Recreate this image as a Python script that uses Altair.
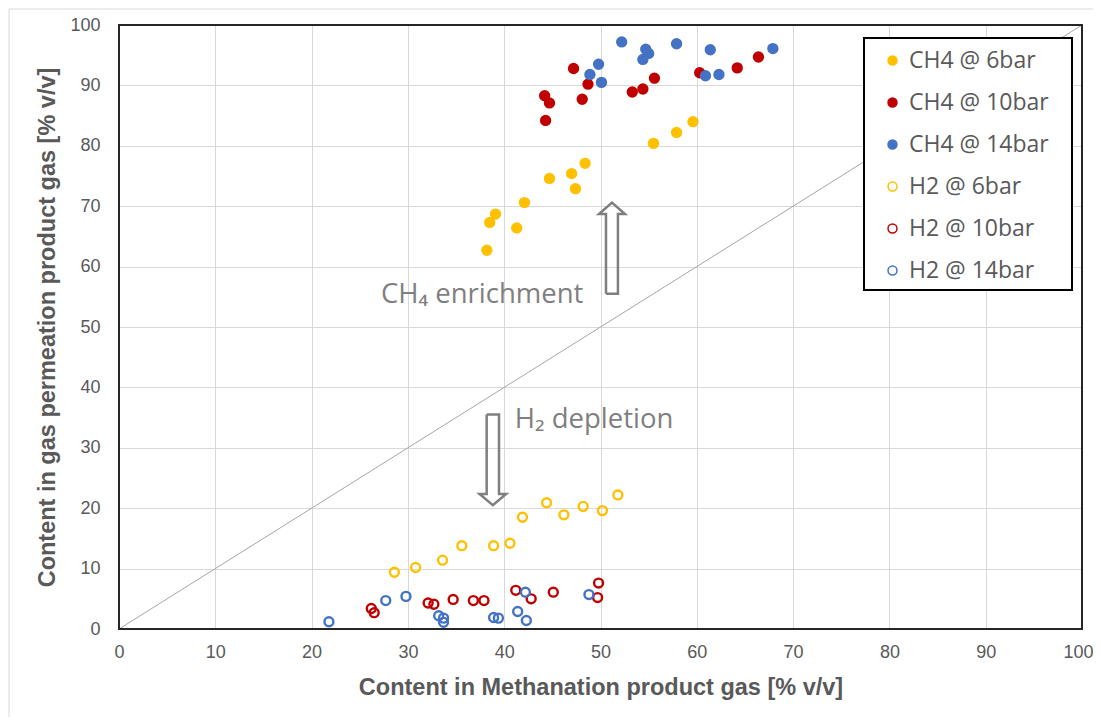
import altair as alt
import pandas as pd

# ---------------- data ----------------
series_names = ["CH4 @ 6bar", "CH4 @ 10bar", "CH4 @ 14bar",
                "H2 @ 6bar", "H2 @ 10bar", "H2 @ 14bar"]
stroke_colors = ["#FFC000", "#C00000", "#4472C4", "#FFC000", "#C00000", "#4472C4"]
fill_colors = ["#FFC000", "#C00000", "#4472C4", "transparent", "transparent", "transparent"]
marker_sizes = [80, 80, 80, 46, 46, 46]

ch4_6_x = [38.2, 38.5, 39.1, 41.3, 42.1, 44.7, 47.0, 47.4, 48.4, 55.5, 57.9, 59.6]
ch4_6_y = [62.7, 67.3, 68.7, 66.4, 70.6, 74.6, 75.4, 72.9, 77.1, 80.4, 82.2, 84.0]
ch4_10_x = [44.3, 44.2, 44.7, 47.2, 48.1, 48.7, 53.3, 54.4, 55.6, 60.3, 64.2, 66.4]
ch4_10_y = [84.2, 88.3, 87.1, 92.8, 87.7, 90.2, 88.9, 89.4, 91.2, 92.1, 92.9, 94.7]
ch4_14_x = [48.9, 49.8, 50.1, 52.2, 54.4, 54.7, 55.0, 57.9, 60.9, 61.4, 62.3, 67.9]
ch4_14_y = [91.8, 93.5, 90.5, 97.2, 94.3, 96.0, 95.3, 96.9, 91.6, 95.9, 91.8, 96.1]
h2_6_x = [28.6, 30.8, 33.6, 35.6, 38.9, 40.6, 41.9, 44.4, 46.2, 48.2, 50.2, 51.8]
h2_6_y = [9.4, 10.2, 11.4, 13.8, 13.8, 14.2, 18.5, 20.9, 18.9, 20.3, 19.6, 22.2]
h2_10_x = [26.2, 26.5, 32.1, 32.7, 34.7, 36.8, 37.9, 41.2, 42.8, 45.1, 49.7, 49.8]
h2_10_y = [3.4, 2.7, 4.3, 4.1, 4.9, 4.7, 4.7, 6.4, 5.0, 6.1, 5.2, 7.6]
h2_14_x = [21.8, 27.7, 29.8, 33.2, 33.7, 33.7, 38.9, 39.4, 41.4, 42.2, 42.3, 48.8]
h2_14_y = [1.2, 4.7, 5.4, 2.2, 1.8, 1.1, 1.9, 1.8, 2.9, 6.1, 1.4, 5.7]

x_ticks = [0, 10, 20, 30, 40, 50, 60, 70, 80, 90, 100]
y_ticks = [0, 10, 20, 30, 40, 50, 60, 70, 80, 90, 100]

diag_x = [0, 100]
diag_y = [0, 100]

# annotation texts (data coordinates of left baseline)
note_text = ["CH\u2084 enrichment", "H\u2082 depletion"]
note_x = [27.2, 41.1]
note_y = [54.0, 33.3]

# hollow block arrows (outline vertices in data coordinates)
arrow_up_x = [50.57, 50.57, 49.84, 51.19, 52.54, 51.81, 51.81, 50.57]
arrow_up_y = [55.5, 68.7, 68.7, 70.6, 68.7, 68.7, 55.5, 55.5]
arrow_dn_x = [38.18, 38.18, 37.44, 38.82, 40.20, 39.46, 39.46, 38.18]
arrow_dn_y = [35.5, 22.35, 22.35, 20.5, 22.35, 22.35, 35.5, 35.5]

# ---------------- frames ----------------
xs = [ch4_6_x, ch4_10_x, ch4_14_x, h2_6_x, h2_10_x, h2_14_x]
ys = [ch4_6_y, ch4_10_y, ch4_14_y, h2_6_y, h2_10_y, h2_14_y]
rows = []
for name, xv, yv in zip(series_names, xs, ys):
    for a, b in zip(xv, yv):
        rows.append({"x": a, "y": b, "series": name})
df = pd.DataFrame(rows)

diag_df = pd.DataFrame({"x": diag_x, "y": diag_y})
note_df = pd.DataFrame({"x": note_x, "y": note_y, "text": note_text})
arrow_rows = []
for nm, ax, ay in [("up", arrow_up_x, arrow_up_y), ("down", arrow_dn_x, arrow_dn_y)]:
    for i, (a, b) in enumerate(zip(ax, ay)):
        arrow_rows.append({"x": a, "y": b, "i": i, "arrow": nm})
arrow_df = pd.DataFrame(arrow_rows)
dummy = pd.DataFrame({"a": [0]})

W, H = 963, 604
GRAY = "#595959"

xscale = alt.Scale(domain=[0, 100], nice=False, zero=False)
yscale = alt.Scale(domain=[0, 100], nice=False, zero=False)
xaxis = alt.Axis(values=x_ticks, title="Content in Methanation product gas [% v/v]",
                 labelFontSize=18, labelFont="Liberation Sans", labelColor=GRAY,
                 labelPadding=14, labelFlush=False, labelOverlap=False, labelBound=False,
                 labelOffset={"expr": "datum.value === 100 ? -4 : 0"},
                 titleFont="Liberation Sans", titleFontSize=23.5, titleFontWeight="bold",
                 titleColor=GRAY, titlePadding=14, domain=False, ticks=False,
                 grid=True, gridColor="#d9d9d9", gridWidth=1)
yaxis = alt.Axis(values=y_ticks, title="Content in gas permeation product gas [% v/v]",
                 labelFontSize=18, labelFont="Liberation Sans", labelColor=GRAY,
                 labelPadding=19, labelFlush=False, labelOverlap=False, labelBound=False,
                 titleFont="Liberation Sans", titleFontSize=23.5, titleFontWeight="bold",
                 titleColor=GRAY, titlePadding=10, domain=False, ticks=False,
                 grid=True, gridColor="#d9d9d9", gridWidth=1)

X = alt.X("x:Q", scale=xscale, axis=xaxis)
Y = alt.Y("y:Q", scale=yscale, axis=yaxis)

leg = alt.Legend(title=None, orient="none", legendX=762, legendY=24,
                 labelFontSize=23, labelFont="Open Sans", labelColor=GRAY,
                 rowPadding=18, padding=0, symbolOffset=0, labelOffset=5,
                 symbolType="circle")

outer = alt.Chart(dummy).mark_rect(fillOpacity=0, stroke="#d9d9d9", strokeWidth=1).encode(
    x=alt.value(-110), x2=alt.value(1100), y=alt.value(-16), y2=alt.value(800))

diag = alt.Chart(diag_df).mark_line(color="#a6a6a6", strokeWidth=1).encode(x=X, y=Y)

arrows = alt.Chart(arrow_df).mark_line(color="#7f7f7f", strokeWidth=2.5, strokeJoin="miter").encode(
    x=X, y=Y, order="i:Q", detail="arrow:N")

notes = alt.Chart(note_df).mark_text(align="left", baseline="alphabetic", fontSize=27.5,
                                     font="Open Sans", color="#7f7f7f").encode(
    x=X, y=Y, text="text:N")

points = alt.Chart(df).mark_point(opacity=1, filled=False, shape="circle", strokeWidth=2.4).encode(
    x=X, y=Y,
    fill=alt.Fill("series:N", scale=alt.Scale(domain=series_names, range=fill_colors), legend=leg),
    stroke=alt.Stroke("series:N", scale=alt.Scale(domain=series_names, range=stroke_colors), legend=leg),
    size=alt.Size("series:N", scale=alt.Scale(domain=series_names, range=marker_sizes), legend=leg),
)

frame = alt.Chart(dummy).mark_rect(fillOpacity=0, stroke="#262626", strokeWidth=2).encode(
    x=alt.value(0), x2=alt.value(W), y=alt.value(0), y2=alt.value(H))

legbox = alt.Chart(dummy).mark_rect(fill="white", stroke="black", strokeWidth=2).encode(
    x=alt.value(745), x2=alt.value(953), y=alt.value(13), y2=alt.value(265))

chart = alt.layer(outer, diag, arrows, notes, points, frame, legbox).properties(
    width=W, height=H,
    autosize=alt.AutoSizeParams(type="none"),
    padding={"left": 111, "top": 17, "right": 11, "bottom": 88},
    background="white",
).configure_view(strokeWidth=0)

chart.save("out.html", embed_options={"renderer": "svg", "actions": False})
